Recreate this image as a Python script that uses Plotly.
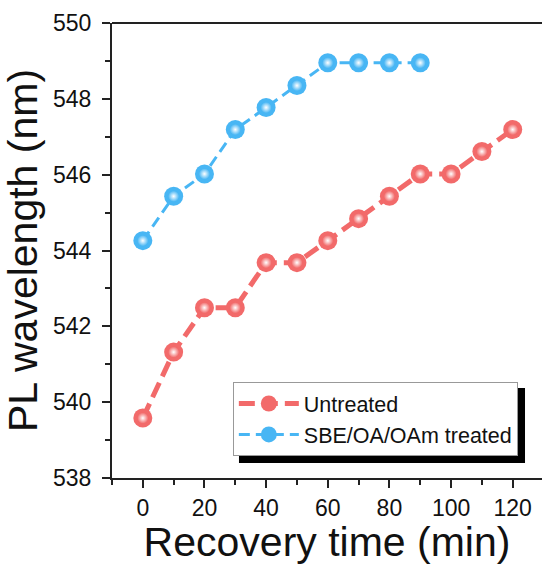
import plotly.graph_objects as go

time_untreated = [0, 10, 20, 30, 40, 50, 60, 70, 80, 90, 100, 110, 120]
pl_untreated = [539.58, 541.32, 542.49, 542.49, 543.68, 543.68, 544.26, 544.84, 545.43, 546.02, 546.02, 546.61, 547.19]

time_treated = [0, 10, 20, 30, 40, 50, 60, 70, 80, 90]
pl_treated = [544.26, 545.43, 546.02, 547.19, 547.77, 548.35, 548.95, 548.95, 548.95, 548.95]

x_ticks = [0, 20, 40, 60, 80, 100, 120]
y_ticks = [538, 540, 542, 544, 546, 548, 550]

RED = "#f26a6a"
BLUE = "#48b6f4"
FONT = "Liberation Sans, Arial, sans-serif"

fig = go.Figure()

def add_series(x, y, name, color, lw, dash):
    fig.add_trace(go.Scatter(
        x=x, y=y, name=name, mode="lines+markers",
        line=dict(color=color, width=lw, dash=dash),
        marker=dict(size=19, color=color, line=dict(width=0)),
    ))
    fig.add_trace(go.Scatter(
        x=x, y=y, mode="markers", showlegend=False, hoverinfo="skip",
        marker=dict(size=11, color=color, line=dict(width=0),
                    gradient=dict(type="radial", color="white")),
    ))

add_series(time_untreated, pl_untreated, "Untreated", RED, 5, "16px,7px")
add_series(time_treated, pl_treated, "SBE/OA/OAm treated", BLUE, 3, "11px,6px")

axis_common = dict(
    showline=True, linecolor="#222", linewidth=2, mirror=False,
    ticks="outside", ticklen=8, tickwidth=2, tickcolor="#222",
    showgrid=False, zeroline=False,
    tickfont=dict(family=FONT, size=23, color="#111"),
)

fig.update_xaxes(
    **axis_common,
    range=[-10, 129.5], tickvals=x_ticks,
    minor=dict(dtick=10, tick0=0, ticks="outside", ticklen=5, tickwidth=2, tickcolor="#222"),
    title=dict(text="Recovery time (min)", font=dict(family=FONT, size=41, color="#111"), standoff=4),
)
fig.update_yaxes(
    **axis_common,
    range=[538, 550], tickvals=y_ticks, ticklabelstandoff=6,
    minor=dict(dtick=1, tick0=538, ticks="outside", ticklen=5, tickwidth=2, tickcolor="#222"),
    title=dict(text="PL wavelength (nm)", font=dict(family=FONT, size=41, color="#111"), standoff=4),
)

# top frame line
fig.add_shape(type="line", xref="paper", yref="paper", x0=0, x1=1, y0=1, y1=1,
              line=dict(color="#222", width=2))

# legend shadow
fig.add_shape(type="rect", xref="paper", yref="paper",
              x0=0.2953, x1=0.9605, y0=0.033, y1=0.198,
              fillcolor="black", line=dict(width=0), layer="above")

fig.update_layout(
    width=542, height=565,
    margin=dict(l=112, r=0, t=23, b=87),
    paper_bgcolor="white", plot_bgcolor="white",
    font=dict(family=FONT, color="#111"),
    legend=dict(
        x=0.281, y=0.211, xanchor="left", yanchor="top",
        bgcolor="white", bordercolor="#999", borderwidth=1,
        font=dict(family=FONT, size=21.5, color="#111"),
        itemwidth=60, tracegroupgap=0,
    ),
)

fig.write_html("out.html")
